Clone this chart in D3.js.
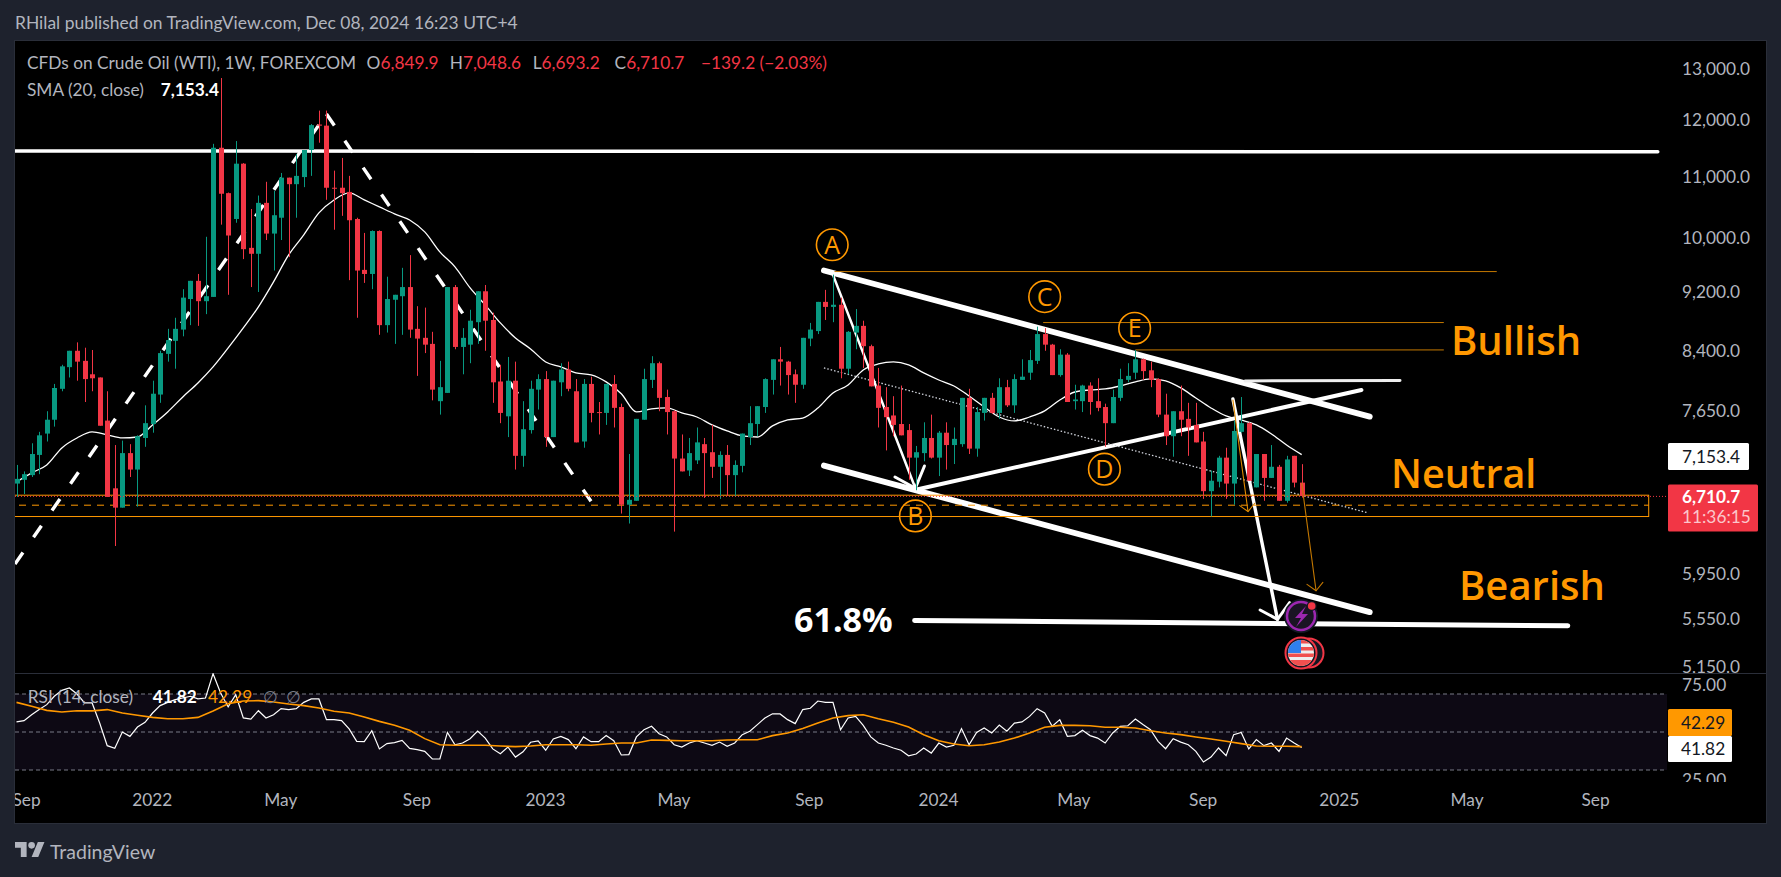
<!DOCTYPE html>
<html><head><meta charset="utf-8">
<style>
html,body{margin:0;padding:0;background:#1e222d;overflow:hidden}
svg{display:block}
text{font-family:Lato,"Open Sans",sans-serif}
</style>
<script src="https://cdn.jsdelivr.net/npm/d3@7"></script>
</head><body>
<svg id="c" width="1781" height="877"></svg>
<script>
// ---- Data ----
const opens=[6840,6880,6930,7150,7390,7550,7920,8190,8400,8270,8100,8060,7540,6790,6590,7170,6990,7340,7500,7850,8360,8530,8680,9100,9360,9070,9130,11500,10720,10300,11220,9850,9760,10560,10070,10320,10980,10870,10990,11460,11920,11900,10810,10810,10740,10300,9520,9460,10110,8740,9090,9140,9270,8690,8570,8490,7770,7870,9270,8450,8480,8780,9210,8810,8010,7590,8020,7140,7430,7910,8040,7350,8000,8160,7890,7300,7980,7640,7630,7980,7700,6620,6660,7550,8030,8240,7820,7650,7110,6980,7090,7270,7180,7020,7150,6930,7030,7350,7500,7700,8030,8290,8260,8100,7970,8560,8660,9060,8990,9020,8170,8640,8730,8460,7960,7700,7600,7500,7430,7120,7170,7340,7120,7400,7260,7270,7810,7220,7630,7810,7630,7940,7720,8030,8120,8270,8620,8480,8090,8350,7770,7770,7960,7770,7700,7510,7810,8030,8120,8290,8150,8040,7610,7360,7650,7560,7490,7300,6760,6860,7120,6840,7410,7510,6800,7160,6900,7020,6660,7140,6849.9];
const highs=[7040,6970,7280,7410,7650,7980,8220,8400,8510,8440,8410,8060,7890,7260,7310,7270,7370,7720,8020,8400,8690,8840,9240,9360,9460,10020,11570,12810,10730,11620,11230,10460,10680,10910,10760,11060,10980,11390,11460,11930,12180,12180,11100,11320,11010,10320,10080,10120,10120,9420,9160,9550,9740,9000,8980,8650,8270,9270,9300,8700,8950,9210,9300,8910,8220,8320,8260,7770,8020,8100,8140,8020,8240,8260,8040,8040,8070,7760,7980,8090,7740,7160,7560,8170,8330,8260,7910,7660,7380,7340,7460,7340,7490,7190,7260,7090,7390,7710,7710,8050,8290,8450,8270,8160,8570,8770,9060,9230,9450,9120,8660,8960,8800,8480,8180,7940,7830,7960,7500,7250,7520,7610,7420,7520,7460,7810,7920,7700,7810,7870,8050,8030,8100,8290,8410,8720,8700,8490,8420,8370,7970,7970,8000,8050,7740,7910,8170,8240,8410,8300,8260,8050,7860,7650,7960,7750,7750,7410,6980,7140,7230,7540,7820,7520,7160,7160,7260,7040,7140,7140,7048.6];
const lows=[6700,6730,6910,6940,7300,7470,7890,8060,8020,7760,7890,7480,6700,6210,6590,6910,6600,7240,7400,7750,8260,8170,8590,8740,8730,8890,9130,10210,9160,10240,9680,9270,9200,9970,9510,9970,9710,10320,10820,11010,11590,10610,10130,10350,9370,8840,9330,9240,8610,8640,8490,8610,8570,8080,8370,7780,7610,7870,8420,8100,8240,8490,8400,7750,7510,7350,6990,7020,7390,7670,7240,7350,7830,7890,7290,7230,7520,7380,7490,7460,6530,6430,6660,7550,7930,7650,7380,6350,6970,6920,7050,6690,6900,6680,6710,6700,6960,7260,7360,7630,7850,7960,7850,7750,7920,8460,8620,8810,8780,8050,8100,8420,8180,7950,7460,7200,7360,7370,6880,6770,7080,7110,6920,6990,7050,7240,7160,7130,7540,7620,7560,7700,7630,8030,8030,8230,8400,8090,8070,7760,7670,7640,7610,7650,7240,7510,7770,8000,8040,8030,7940,7580,7260,7130,7360,7140,7290,6680,6500,6800,6680,6620,7400,6870,6800,6660,6900,6660,6640,6800,6693.2];
const closes=[6890,6940,7160,7370,7550,7930,8200,8400,8260,8040,8050,7480,6700,6590,7170,6990,7360,7510,7860,8370,8540,8690,9120,9360,9070,9140,11500,10710,10040,11220,9830,9760,10560,10070,10360,10980,10870,11010,11460,11910,11900,10810,10800,10720,10280,9510,9460,10110,8740,9100,9160,9270,8680,8560,8480,7910,7940,9270,8450,8570,8800,9210,8800,8000,7630,8020,7140,7440,7920,8040,7350,8020,8160,7920,7290,7980,7630,7630,7980,7690,6620,6670,7560,8040,8240,7810,7640,7110,6970,7170,7290,7170,7020,7150,6930,7040,7390,7510,7710,8040,8290,8260,8090,7970,8570,8680,9060,8990,9020,8170,8650,8730,8460,7950,7690,7580,7490,7370,7120,7180,7340,7120,7400,7260,7330,7810,7220,7640,7810,7630,7940,7720,8040,8070,8280,8620,8480,8090,8350,7760,7790,7960,7760,7690,7510,7820,8040,8080,8290,8140,8030,7610,7360,7650,7550,7460,7290,6760,6870,7120,6840,7420,7510,6870,7160,6900,7020,6660,7100,6850,6710.7];
// SMA(20) read at every second bar
const smaEvery2=[6857,6954,7040,7228,7340,7409,7375,7340,7351,7490,7642,7821,7992,8193,8437,8702,8990,9344,9743,10050,10398,10608,10725,10608,10495,10381,10284,10096,9789,9564,9258,9018,8770,8568,8424,8256,8193,8117,8092,8005,7860,7642,7678,7689,7630,7582,7490,7420,7363,7351,7478,7547,7570,7689,7869,7967,8155,8230,8256,8218,8117,8029,7955,7833,7701,7582,7536,7582,7654,7784,7881,7906,7918,7955,8005,8042,8017,7931,7808,7689,7594,7547,7490,7386,7261,7153.4];
const rsiValues=[55.3,56,59.1,61.8,64.4,68.8,71.9,73.2,70,65.3,65.3,54.7,42.8,41.4,50,47.7,52.6,55.1,60,63.9,65.6,67,67.9,68.8,67.4,67.9,80.7,70.5,63.2,69.6,57.4,56.8,61.2,57.4,59.1,62.3,61.8,62.3,65.6,67.4,67.4,56.5,56.5,56,51.6,45.1,44.9,50.7,41.1,43.9,44.4,45.6,41.4,40.7,39.8,35.8,35.8,49.8,43.2,44.2,46.5,50.5,46.8,41.1,38.6,42.1,36.8,39.6,44.6,45.3,40.4,46.3,47.7,46,41.2,47.4,44.9,44.9,48.1,45.4,37.9,38.1,47.4,51.2,53,49.1,47.4,43.3,42.1,44.2,45.4,44.2,43,44.7,42.5,44.2,48.6,50.4,53.9,57.4,59.6,59.5,56.5,54.4,61.8,62.5,66.3,65.6,65.6,51.2,57.4,58.2,53.5,47.4,44.2,43,41.6,40.4,37.5,38.4,41.6,38.9,44.2,42.1,43,51.8,43.3,49.8,52.1,49.5,53.7,50.4,54.7,55.3,58.2,62.3,60,53,56.5,47.7,48.1,50.9,48.1,46.8,44.2,49.5,53,53.3,56.8,53.9,51.2,45.1,41.2,46.5,44.7,43.3,39.8,34.2,36.8,41.6,37.5,48.6,49.8,41.1,46,42.8,44.2,39.8,46.8,44.2,41.82];
const rsiMaEvery2=[65.6,63.5,61.4,60.5,61.2,61.1,61.8,60,58.8,57.7,57,57,57.7,61.1,64.9,66.3,66.5,65.8,64.7,63.9,62.6,60.9,60,57.9,55.6,53.5,50.9,46.5,43.3,43,43,43,42.6,42.3,42.6,43.3,43.3,43.3,43,43.7,44.2,44.2,45.8,45.6,45.4,45.4,45.4,45.8,45.9,45.9,48.1,49.5,51.8,54.7,57.4,58.6,59.1,57,55.1,52.6,48.6,45.4,43.7,42.8,43.3,44.7,46.8,49.5,52.5,53.5,53.5,53.3,52.5,52.5,52.1,50.7,49.5,48.6,47.4,46.3,45.1,43.9,42.6,42.5,42.5,42.29];
const priceTicks=[13000,12000,11000,10000,9200,8400,7650,5950,5550,5150];
const rsiTicks=[75,25];
const rsiLevels=[70,50,30];
const timeTickBars=[1.27,17.9,34.9,52.9,69.9,86.9,104.8,121.9,139.8,156.9,174.9,191.8,208.8];
const timeTickLabels=["Sep","2022","May","Sep","2023","May","Sep","2024","May","Sep","2025","May","Sep"];
// Drawings: [bar, price] pairs
const resistanceLine=[[-0.2,11444],[217.1,11427]];
const dashedUp=[[-0.2,6040],[41,12117]];
const dashedDown=[[41,12117],[76.5,6598]];
const channelTop=[[106.8,9510],[179,7586]];
const channelBottom=[[106.8,7033],[179,5606]];
const risingLine=[[118.8,6773],[177.9,7906]];
const fibLine=[[118.8,5534],[205.2,5489]];
const upperFlat=[[162.5,8017],[183,8024]];
const midDotted=[[106.8,8180],[178.8,6536]];
const arrowAB=[[108,9446],[118.9,6790]];
const arrowABHead=[[116.2,6910],[118.9,6790],[120.1,7029]];
const arrowBig=[[160.9,7796],[166.8,5544]];
const arrowBigHead=[[164.5,5625],[166.8,5544],[168.4,5689]];
const arrowOr1=[[160.9,7784],[162.9,6550]];
const arrowOr1Head=[[161.8,6611],[162.9,6550],[163.8,6635]];
const arrowOr2=[[170,6843],[171.9,5795]];
const arrowOr2Head=[[170.7,5852],[171.9,5795],[172.8,5871]];
const thinLevels=[[108.2,195.8,9495],[135.8,188.8,8775],[148,188.8,8411]];
const neutralBox={barEnd:215.9,top:6718,mid:6615,bottom:6500};
const wavePoints=[["A",107.9,9897],["B",118.9,6506],["C",136,9134],["D",143.9,6994],["E",147.9,8698]];
const legendValues=["6,849.9","7,048.6","6,693.2","6,710.7"];

// ---- Scales ----
const svg=d3.select("#c");
const ORANGE="#ff9800",RED="#f23645",GREEN="#089981";
const L=15,R=1766,T=41,B=823,SEP=673;
const x=d3.scaleLinear().domain([0,200]).range([16.5,1528.5]);
const y=d3.scaleLog().domain([5150,13000]).range([667,68.5]);
const r=d3.scaleLinear().domain([30,70]).range([770,694]);
const line=d3.line().x(d=>x(d[0])).y(d=>y(d[1]));
const AX=17.3, LG=17.3;

svg.append("rect").attr("width",1781).attr("height",877).attr("fill","#1e222d");
svg.append("rect").attr("x",L-.5).attr("y",T-.5).attr("width",R-L+1).attr("height",B-T+1).attr("fill","#000").attr("stroke","#2a2e39");

const defs=svg.append("defs");
defs.append("clipPath").attr("id","mainClip").append("rect").attr("x",L).attr("y",T).attr("width",1652).attr("height",SEP-T);
defs.append("clipPath").attr("id","rsiClip").append("rect").attr("x",L).attr("y",SEP).attr("width",1652).attr("height",108);
defs.append("clipPath").attr("id","priceAxClip").append("rect").attr("x",1667).attr("y",T).attr("width",99).attr("height",SEP-T);
defs.append("clipPath").attr("id","rsiAxClip").append("rect").attr("x",1667).attr("y",SEP).attr("width",99).attr("height",109);
defs.append("clipPath").attr("id","timeClip").append("rect").attr("x",L).attr("y",785).attr("width",1750).attr("height",38);
defs.append("clipPath").attr("id","flagClip").append("circle").attr("cx",1301).attr("cy",653).attr("r",13);

svg.append("line").attr("x1",L).attr("x2",R).attr("y1",SEP+.5).attr("y2",SEP+.5).attr("stroke","#2a2e39");

// ---- Axes ----
const axisText=(g,size)=>{g.select(".domain").remove();g.selectAll(".tick line").remove();
  g.selectAll("text").attr("fill","#b2b5be").style("font-size",size+"px").style("font-family","Lato");};
svg.append("g").attr("clip-path","url(#priceAxClip)").append("g").attr("transform","translate(1682,0)")
  .call(d3.axisRight(y).tickValues(priceTicks).tickFormat(d3.format(",.1f")).tickSize(0).tickPadding(0)).call(axisText,AX);
svg.append("g").attr("clip-path","url(#rsiAxClip)").append("g").attr("transform","translate(1682,0)")
  .call(d3.axisRight(r).tickValues(rsiTicks).tickFormat(d3.format(".2f")).tickSize(0).tickPadding(0)).call(axisText,AX);
svg.append("g").attr("clip-path","url(#timeClip)").append("g").attr("transform","translate(0,794)")
  .call(d3.axisBottom(x).tickValues(timeTickBars).tickFormat((d,i)=>timeTickLabels[i]).tickSize(0).tickPadding(0)).call(axisText,AX);

// ---- Main pane ----
const main=svg.append("g").attr("clip-path","url(#mainClip)");
const wline=(g,d,w,col,dash)=>g.append("path").attr("d",line(d)).attr("fill","none").attr("stroke",col||"#fff").attr("stroke-width",w).attr("stroke-linecap","round").attr("stroke-linejoin","round").attr("stroke-dasharray",dash||null);

wline(main,resistanceLine,3.5);
wline(main,dashedUp,3.4,"#fff","14 18.5").attr("stroke-linecap","butt");
wline(main,dashedDown,3.4,"#fff","14 18.5").attr("stroke-linecap","butt");
wline(main,channelTop,5.8);
wline(main,channelBottom,5.8);
wline(main,risingLine,4);
wline(main,upperFlat,3,"#eee");
main.append("path").attr("d",line(midDotted)).attr("fill","none").attr("stroke","#d1d4dc").attr("stroke-width",1.3).attr("stroke-dasharray","1.5 2");
thinLevels.forEach(d=>main.append("line").attr("x1",x(d[0])).attr("x2",x(d[1])).attr("y1",y(d[2])).attr("y2",y(d[2])).attr("stroke","#c47800"));
wline(main,arrowAB,2.5);wline(main,arrowABHead,3);
wline(main,arrowBig,3.4);wline(main,arrowBigHead,3);
wline(main,fibLine,5);

// neutral box
main.append("rect").attr("x",L-2).attr("y",y(neutralBox.top)).attr("width",x(neutralBox.barEnd)-L+2).attr("height",y(neutralBox.bottom)-y(neutralBox.top)).attr("fill","none").attr("stroke",ORANGE).attr("stroke-width",1);
main.append("line").attr("x1",19).attr("x2",x(neutralBox.barEnd)).attr("y1",y(neutralBox.mid)).attr("y2",y(neutralBox.mid)).attr("stroke",ORANGE).attr("stroke-width",1).attr("stroke-dasharray","7 6");

// SMA
main.append("path").datum(smaEvery2).attr("fill","none").attr("stroke","#fff").attr("stroke-width",1.3)
  .attr("d",d3.line().x((d,i)=>x(i*2)).y(d=>y(d)).curve(d3.curveMonotoneX));

// last price line
svg.append("line").attr("x1",L).attr("x2",1666).attr("y1",y(closes[170])+.5).attr("y2",y(closes[170])+.5).attr("stroke",RED).attr("stroke-dasharray","1 2");

// candles
const idx=d3.range(closes.length);
const col=i=>closes[i]>=opens[i]?GREEN:RED;
main.selectAll(".wick").data(idx).join("line").attr("x1",i=>Math.round(x(i))+.5).attr("x2",i=>Math.round(x(i))+.5)
  .attr("y1",i=>y(highs[i])).attr("y2",i=>y(lows[i])).attr("stroke",col).attr("stroke-width",1);
main.selectAll(".body").data(idx).join("rect").attr("x",i=>Math.round(x(i))-2).attr("width",5)
  .attr("y",i=>y(Math.max(opens[i],closes[i]))).attr("height",i=>Math.max(1,Math.abs(y(opens[i])-y(closes[i])))).attr("fill",col);

// orange arrows above candles
wline(main,arrowOr1,1.1,"#e08a00");wline(main,arrowOr1Head,1.1,"#e08a00");
wline(main,arrowOr2,1.1,"#c47800");wline(main,arrowOr2Head,1.1,"#c47800");

// wave labels
wavePoints.forEach(([t,b,p])=>{
  main.append("circle").attr("cx",x(b)).attr("cy",y(p)).attr("r",15.8).attr("fill","none").attr("stroke",ORANGE).attr("stroke-width",1.6);
  main.append("text").attr("x",x(b)).attr("y",y(p)).attr("dy","0.36em").attr("text-anchor","middle").attr("fill",ORANGE).style("font-family","Open Sans").style("font-size","25px").text(t);
});

// big labels
const big=(t,xp,yp,sz,c,w)=>svg.append("text").attr("x",xp).attr("y",yp).attr("fill",c).style("font-family","Open Sans").style("font-size",sz+"px").style("font-weight",w||600).text(t);
big("Bullish",1451,355,40,ORANGE);
big("Neutral",1391,488,39.5,ORANGE);
big("Bearish",1459,600,40,ORANGE);
big("61.8%",794,632,34,"#fff",700);

// event icons
const ev=svg.append("g");
ev.append("circle").attr("cx",1301).attr("cy",616).attr("r",17).attr("fill","#131722");
ev.append("circle").attr("cx",1301).attr("cy",616).attr("r",14).attr("fill","#1a1424").attr("stroke","#9c27b0").attr("stroke-width",2.5);
ev.append("path").attr("d","M1306 606 L1295 618 L1301 618 L1296 627 L1308 614 L1302 614 Z").attr("fill","#9c27b0");
ev.append("circle").attr("cx",1311.7).attr("cy",606).attr("r",5).attr("fill","#131722");
ev.append("circle").attr("cx",1311.7).attr("cy",606).attr("r",3.8).attr("fill",RED);
ev.append("circle").attr("cx",1309).attr("cy",653).attr("r",14.5).attr("fill","#131722").attr("stroke",RED).attr("stroke-width",2);
ev.append("circle").attr("cx",1301).attr("cy",653).attr("r",15.5).attr("fill","#131722").attr("stroke",RED).attr("stroke-width",2);
const fl=ev.append("g").attr("clip-path","url(#flagClip)");
fl.append("rect").attr("x",1288).attr("y",640).attr("width",26).attr("height",26).attr("fill","#eee");
[[640,3.5],[647,3.5],[653.5,3.5],[660,6]].forEach(s=>fl.append("rect").attr("x",1288).attr("y",s[0]).attr("width",26).attr("height",s[1]).attr("fill","#f0504f"));
fl.append("rect").attr("x",1288).attr("y",640).attr("width",13).attr("height",13).attr("fill","#2f80ed");

// ---- RSI pane ----
svg.append("rect").attr("x",L).attr("y",r(70)).attr("width",1652).attr("height",r(30)-r(70)).attr("fill","#7e57c2").attr("fill-opacity",.1);
rsiLevels.forEach(v=>svg.append("line").attr("x1",L).attr("x2",1667).attr("y1",r(v)).attr("y2",r(v)).attr("stroke","#787b86").attr("stroke-dasharray","4 3"));
const rsiP=svg.append("g").attr("clip-path","url(#rsiClip)");
rsiP.append("path").datum(rsiValues).attr("fill","none").attr("stroke","#fff").attr("stroke-width",1.2).attr("d",d3.line().x((d,i)=>x(i)).y(d=>r(d)));
rsiP.append("path").datum(rsiMaEvery2).attr("fill","none").attr("stroke",ORANGE).attr("stroke-width",1.6).attr("d",d3.line().x((d,i)=>x(i*2)).y(d=>r(d)));

// ---- Price labels ----
const box=(x0,y0,w,h,c)=>svg.append("rect").attr("x",x0).attr("y",y0).attr("width",w).attr("height",h).attr("rx",1.5).attr("fill",c);
const lab=(t,xp,yp,c,sz,w)=>svg.append("text").attr("x",xp).attr("y",yp).attr("dy","0.35em").attr("fill",c).style("font-size",(sz||AX)+"px").style("font-weight",w||400).text(t);
box(1668,443,81,27,"#fff");lab("7,153.4",1682,456.5,"#131722");
box(1668,484.5,90,47,RED);lab("6,710.7",1682,496.5,"#fff",AX,700);lab("11:36:15",1682,517,"#fbc6cb");
box(1668,709,64,27,ORANGE);lab("42.29",1681,723,"#131722");
box(1668,736,64,26,"#fff");lab("41.82",1681,749,"#131722");

// ---- Legends ----
lab("RHilal published on TradingView.com, Dec 08, 2024 16:23 UTC+4",15,23,"#b2b5be",17.45);
lab("CFDs on Crude Oil (WTI), 1W, FOREXCOM",27,63,"#b2b5be",LG);
[["O",366.6],["H",449.7],["L",532.7],["C",614.6]].forEach((d,i)=>{
  const t=lab(d[0],d[1],63,"#b2b5be",LG);
  t.append("tspan").attr("fill",RED).text(legendValues[i]);
});
lab("\u2212139.2 (\u22122.03%)",701,63,RED,LG);
lab("SMA (20, close)",27,90,"#b2b5be",LG);
lab("7,153.4",160.7,90,"#fff",LG,700);
lab("RSI (14, close)",27.7,697,"#b2b5be",LG);
lab("41.82",152.7,697,"#fff",LG,700);
lab("42.29",208,697,ORANGE,LG);
lab("\u2205",263,697,"#787b86",LG);
lab("\u2205",286,697,"#787b86",LG);

// ---- Logo ----
const lg=svg.append("g").attr("transform","translate(15,838.7) scale(.83)").attr("fill","#b2b5be");
lg.append("path").attr("d","M14 22H7V11H0V4h14v18zM28 22h-8l7.5-18h8L28 22z");
lg.append("circle").attr("cx",20).attr("cy",8).attr("r",4);
lab("TradingView",50,852,"#b2b5be",19.5);
</script>
</body></html>
